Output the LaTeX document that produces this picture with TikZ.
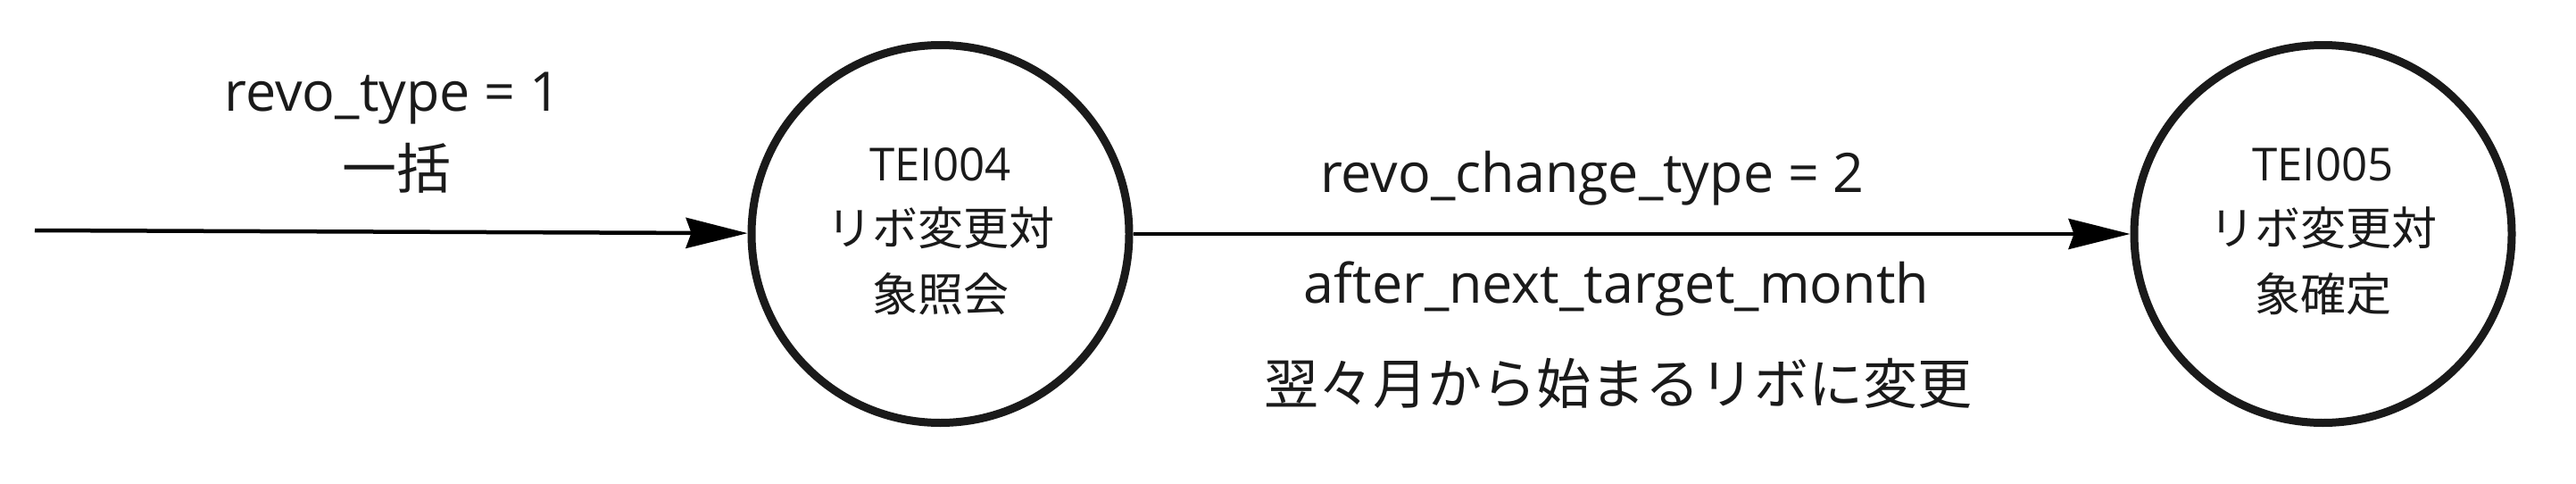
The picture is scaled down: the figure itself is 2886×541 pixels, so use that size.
\documentclass[tikz,border=0pt]{standalone}
\usepackage{fontspec}
\setmainfont{Open Sans}
\newfontfamily\jp{Noto Sans CJK JP}
\usetikzlibrary{arrows.meta}
\definecolor{ink}{RGB}{26,26,26}
\begin{document}
\begin{tikzpicture}[x=1pt,y=-1pt,
  state/.style={circle,draw=ink,line width=9pt,minimum size=423pt,inner sep=0pt},
  lbl/.style={inner sep=0pt,text=ink,font=\fontsize{61}{72}\selectfont},
  slbl/.style={inner sep=0pt,text=ink,font=\fontsize{51}{60}\selectfont},
  conn/.style={draw=black,line width=4.5pt,-{Stealth[length=69pt,width=34pt,inset=6pt]}}]
\useasboundingbox (0,0) rectangle (2886,541);
\node[state] (c1) at (1053.5,262) {};
\node[state] (c2) at (2602.5,262) {};
% state texts
\node[slbl,anchor=base] (t1a) at (1053.5,202) {TEI004};
\node[slbl] (t1b) at (1053.5,255) {\jp リボ変更対};
\node[slbl] (t1c) at (1053.5,329.5) {\jp 象照会};
\node[slbl,anchor=base] (t2a) at (2602.5,202) {TEI005};
\node[slbl] (t2b) at (2602.5,255) {\jp リボ変更対};
\node[slbl] (t2c) at (2602.5,329.5) {\jp 象確定};
% connectors
\coordinate (s) at (39,258);
\draw[conn] (s) -- (c1);
\draw[conn] (c1) -- (c2);
% labels
\node[lbl,anchor=base] (l1a) at (440,124) {revo\_type = 1};
\node[lbl] (l1b) at (444,188) {\jp 一括};
\node[lbl,anchor=base] (l2a) at (1784,215) {revo\_change\_type = 2};
\node[lbl,anchor=base] (l2b) at (1811,339) {after\_next\_target\_month};
\node[lbl] (l2c) at (1813,429) {\jp 翌々月から始まるリボに変更};
\end{tikzpicture}
\end{document}
